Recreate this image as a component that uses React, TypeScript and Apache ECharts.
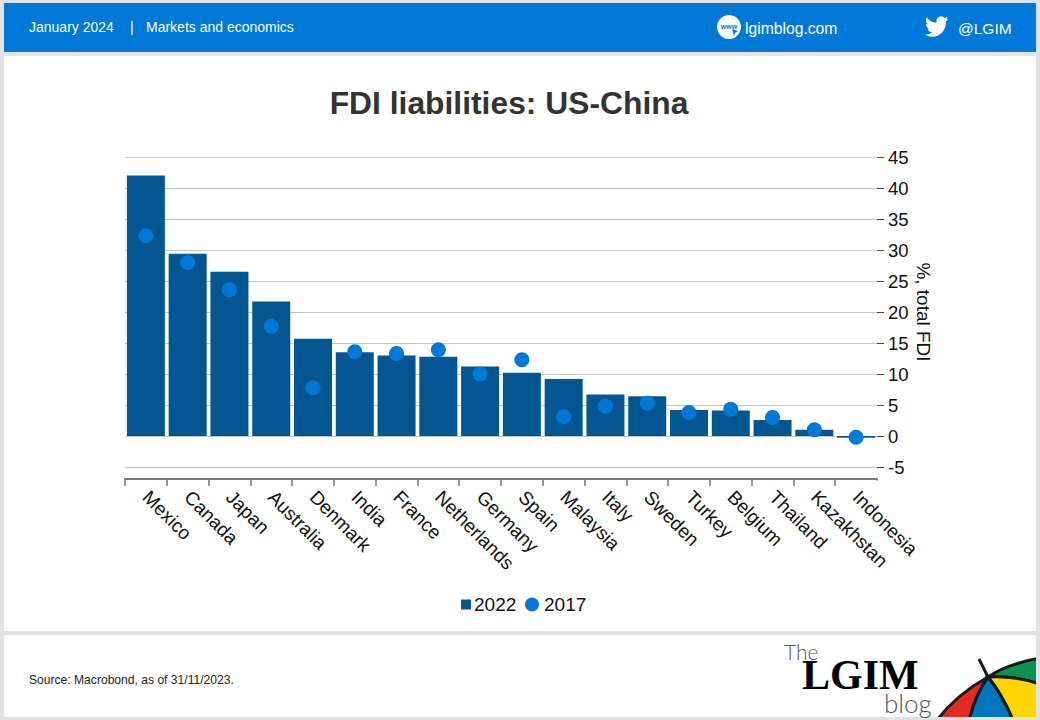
import React, { useEffect, useRef } from "react";
import * as echarts from "echarts";

const categories = ["Mexico","Canada","Japan","Australia","Denmark","India","France","Netherlands","Germany","Spain","Malaysia","Italy","Sweden","Turkey","Belgium","Thailand","Kazakhstan","Indonesia"];
const values2022 = [42,29.4,26.5,21.7,15.7,13.5,13,12.8,11.2,10.2,9.2,6.7,6.4,4.2,4.1,2.6,1,-0.3];
const values2017 = [32.3,28,23.6,17.7,7.8,13.6,13.3,13.9,10,12.3,3.1,4.8,5.3,3.8,4.3,3,1,-0.2];

const FONT = "'Liberation Sans', Arial, sans-serif";
const BLUE = "#0078d7";

const bird = "M24 4.56a9.8 9.8 0 0 1-2.83.78 4.93 4.93 0 0 0 2.16-2.72 9.86 9.86 0 0 1-3.12 1.19 4.92 4.92 0 0 0-8.38 4.49A13.96 13.96 0 0 1 1.67 3.15a4.92 4.92 0 0 0 1.52 6.57 4.9 4.9 0 0 1-2.23-.62v.06a4.92 4.92 0 0 0 3.95 4.83 4.93 4.93 0 0 1-2.22.08 4.93 4.93 0 0 0 4.6 3.42A9.87 9.87 0 0 1 0 19.54a13.94 13.94 0 0 0 7.55 2.21c9.05 0 14-7.5 14-14 0-.21 0-.43-.01-.64A10 10 0 0 0 24 4.56z";
echarts.graphic.registerShape("lgimBird", echarts.graphic.extendPath(bird, {}));
echarts.graphic.registerShape("umbGreen", echarts.graphic.extendPath("M988 677 C1001 668 1018 662 1040 658 L1040 684 C1022 678 1005 676 988 677 Z", {}));
echarts.graphic.registerShape("umbYellow", echarts.graphic.extendPath("M988 677 C1005 676 1022 678 1040 684 L1040 720 L1013 720 C1006 704 998 689 988 677 Z", {}));
echarts.graphic.registerShape("umbBlue", echarts.graphic.extendPath("M988 677 C998 689 1006 704 1013 720 L969 720 C973 704 979 689 988 677 Z", {}));
echarts.graphic.registerShape("umbRed", echarts.graphic.extendPath("M988 677 C979 689 973 704 969 720 L937 720 C951 702 968 688 988 677 Z", {}));

const panel = (x: number, y: number, width: number, height: number, fill: string, z = 0) => ({
  type: "rect", shape: { x, y, width, height }, style: { fill }, z, silent: true,
});
const label = (x: number, y: number, text: string, fontSize: number, extra: any = {}) => ({
  type: "text", x, y, z: 5, silent: true,
  style: { text, fontSize, fontFamily: FONT, fill: "#fff", textVerticalAlign: "middle", ...extra },
});
const umb = (type: string, fill: string) => ({
  type, z: 4, silent: true, style: { fill, stroke: "#1a1a1a", lineWidth: 3 },
});

export default function App() {
  const ref = useRef<HTMLDivElement>(null);
  useEffect(() => {
    const chart = echarts.init(ref.current!, undefined, { renderer: "svg" });
    chart.setOption({
      animation: false,
      backgroundColor: "#e2e2e2",
      title: {
        text: "FDI liabilities: US-China", left: 504, top: 82, textAlign: "center",
        textStyle: { fontFamily: FONT, fontSize: 31.8, fontWeight: "bold", color: "#333" },
      },
      grid: { left: 125, right: 163, top: 157, bottom: 253, containLabel: false },
      legend: [
        { data: [{ name: "2022", icon: "rect" }], left: 461, top: 595, itemWidth: 10, itemHeight: 10, itemGap: 0,
          textStyle: { fontFamily: FONT, fontSize: 19, color: "#111", padding: [0, 0, 0, -2] }, padding: 0 },
        { data: [{ name: "2017", icon: "circle" }], left: 525, top: 595, itemWidth: 14, itemHeight: 14, itemGap: 0,
          textStyle: { fontFamily: FONT, fontSize: 19, color: "#111", padding: [0, 0, 0, 0] }, padding: 0 },
      ],
      xAxis: {
        type: "category", data: categories, position: "bottom", offset: 12,
        axisLine: { onZero: false, lineStyle: { color: "#777", width: 2 } },
        axisTick: { show: true, length: 7, lineStyle: { color: "#777", width: 1.5 } },
        splitLine: { show: false },
        axisLabel: { interval: 0, rotate: -45, margin: 15, fontFamily: FONT, fontSize: 19, color: "#111" },
      },
      yAxis: {
        type: "value", position: "right", min: -5, max: 45, interval: 5,
        name: "%, total FDI", nameLocation: "middle", nameGap: 37, nameRotate: -90, nameMoveOverlap: false,
        nameTextStyle: { fontFamily: FONT, fontSize: 19, color: "#111" },
        axisLine: { show: false },
        axisTick: { show: true, length: 7, lineStyle: { color: "#444" } },
        splitLine: { show: true, lineStyle: { color: "#c6c6c6", width: 1 } },
        axisLabel: { margin: 11, fontFamily: FONT, fontSize: 18.5, color: "#111" },
      },
      series: [
        { name: "2022", type: "bar", data: values2022, barWidth: 38, itemStyle: { color: "#03568f" }, z: 2 },
        { name: "2017", type: "scatter", data: values2017, symbol: "circle", symbolSize: 15, itemStyle: { color: "#0078d7", opacity: 1 }, z: 3 },
      ],
      graphic: [
        panel(4, 3, 1032, 49, BLUE),
        panel(4, 56, 1032, 575, "#fff"),
        panel(4, 635, 1032, 82, "#fff"),
        label(29, 27, "January 2024", 14),
        label(130, 27, "|", 14),
        label(146, 27, "Markets and economics", 14),
        { type: "circle", shape: { cx: 729, cy: 27, r: 12 }, style: { fill: "#fff" }, z: 5, silent: true },
        label(729, 26, "www", 7, { fill: BLUE, fontWeight: "bold", textAlign: "center" }),
        { type: "polygon", shape: { points: [[732, 29], [738, 31], [735, 33], [734, 36]] }, style: { fill: BLUE }, z: 6, silent: true },
        label(745, 28, "lgimblog.com", 15.7),
        { type: "lgimBird", x: 925, y: 14, scaleX: 0.97, scaleY: 1.05, style: { fill: "#fff" }, z: 5, silent: true },
        label(958, 28, "@LGIM", 15.5),
        label(29, 680, "Source: Macrobond, as of 31/11/2023.", 12.1, { fill: "#222" }),
        label(784, 651, "The", 21, { fill: "#555", fontFamily: "'Lato', sans-serif", fontWeight: 300, lineHeight: 18 }),
        label(802, 675, "LGIM", 42, { fill: "#000", fontFamily: "'Liberation Serif', serif", fontWeight: "bold", lineHeight: 30 }),
        label(884, 703, "blog", 26, { fill: "#555", fontFamily: "'Lato', sans-serif", fontWeight: 300, lineHeight: 24 }),
        { type: "line", shape: { x1: 979, y1: 659, x2: 988, y2: 677 }, style: { stroke: "#1a1a1a", lineWidth: 3 }, z: 4, silent: true },
        umb("umbGreen", "#0d9150"),
        umb("umbYellow", "#ffd500"),
        umb("umbBlue", "#0074bc"),
        umb("umbRed", "#e52a22"),
        panel(1036, 600, 4, 120, "#e2e2e2", 7),
        panel(930, 717, 110, 3, "#e2e2e2", 7),
        panel(875, 480.5, 5, 8, "#fff", 7),
      ],
    });
    return () => chart.dispose();
  }, []);
  return <div ref={ref} style={{ position: "fixed", left: 0, top: 0, width: 1040, height: 720 }} />;
}
